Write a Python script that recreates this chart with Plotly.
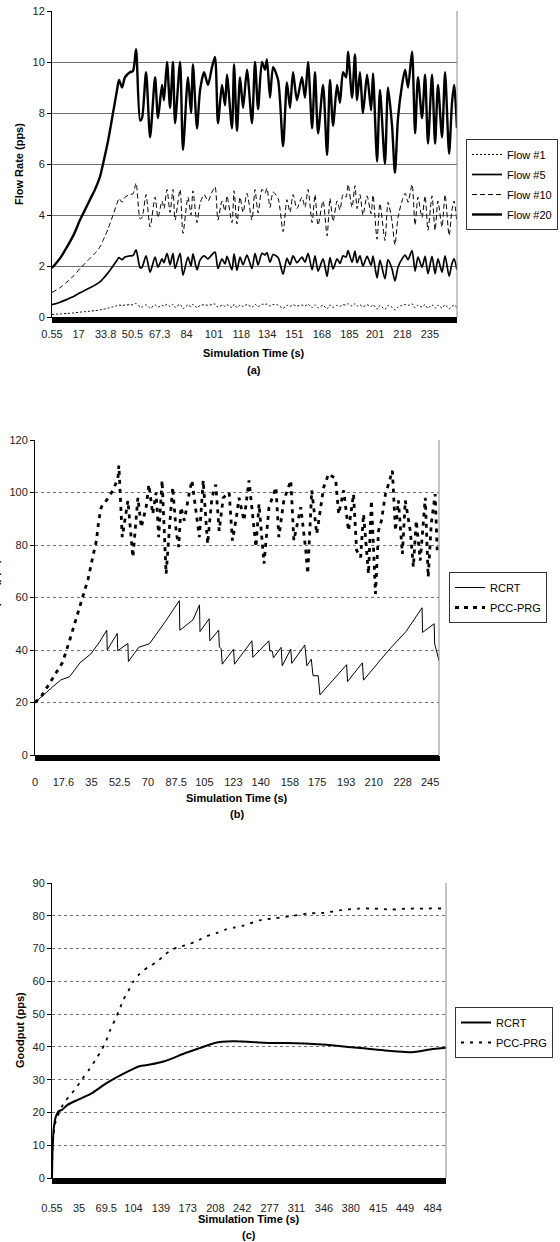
import plotly.graph_objects as go

W, H = 560, 1242
FONT = "Liberation Sans, Arial, sans-serif"

# ---------------- panel (a) data ----------------
time_a = [0.55, 5.51, 9.86, 14.2, 17.9, 21.0, 24.1, 27.2, 30.3, 32.2,
          35.3, 38.4, 40.9, 42.1, 44.0, 45.8, 48.9, 50.8, 52.7, 55.2,
          56.4, 58.9, 61.4, 64.5, 66.3, 68.8, 70.0, 71.9, 73.8, 75.6,
          76.9, 80.0, 81.8, 84.9, 86.8, 88.0, 90.5, 92.4, 94.9, 97.3,
          99.8, 101.7, 103.5, 106.0, 107.9, 109.1, 112.2, 113.5, 115.3, 117.2,
          119.1, 121.5, 124.6, 126.5, 128.4, 130.8, 132.7, 133.9, 135.8, 137.7,
          140.8, 143.9, 146.3, 148.2, 150.1, 152.5, 155.6, 157.5, 159.4, 161.9,
          163.7, 165.6, 168.7, 171.2, 173.0, 174.9, 177.4, 179.2, 181.1, 183.0,
          184.2, 186.7, 188.5, 189.8, 191.6, 193.5, 196.0, 198.5, 199.7, 202.2,
          204.0, 207.1, 209.0, 211.5, 213.3, 215.2, 217.7, 219.6, 221.4, 223.9,
          225.8, 227.6, 230.1, 232.0, 233.8, 236.3, 238.2, 240.0, 242.5, 244.4,
          246.9, 248.7, 250.0, 251.8]

flow20 = [1.92, 2.3, 2.75, 3.25, 3.8, 4.2, 4.6, 5.0, 5.5, 6.0,
          6.9, 8.0, 8.9, 9.3, 9.0, 9.4, 9.6, 9.65, 10.5, 7.7,
          7.8, 9.6, 7.05, 9.4, 7.8, 9.1, 8.5, 10.0, 8.2, 10.0,
          7.6, 10.0, 6.55, 9.4, 8.0, 9.9, 7.4, 8.9, 9.6, 9.1,
          9.8, 10.2, 7.6, 9.1, 8.3, 9.5, 7.4, 9.9, 7.3, 9.4,
          8.2, 9.7, 7.6, 10.0, 8.15, 10.0, 9.7, 10.1, 8.6, 9.8,
          9.3, 6.7, 9.2, 8.2, 9.6, 8.5, 9.4, 8.6, 10.0, 7.4,
          9.6, 7.2, 9.1, 6.35, 9.3, 7.5, 9.1, 8.4, 9.6, 9.4,
          10.4, 8.6, 10.3, 8.5, 9.6, 8.0, 9.5, 8.1, 9.55, 6.1,
          8.9, 6.0, 9.0, 7.5, 5.65, 7.8, 9.1, 9.7, 9.0, 10.4,
          7.2, 9.4, 7.8, 9.5, 6.8, 9.5, 6.8, 9.1, 7.05, 9.6,
          6.4, 8.4, 9.1, 7.4]

flow10 = [0.96, 1.15, 1.38, 1.63, 1.9, 2.1, 2.3, 2.5, 2.75, 3.0,
          3.45, 4.0, 4.45, 4.65, 4.5, 4.7, 4.8, 4.83, 5.25, 3.85,
          3.9, 4.8, 3.53, 4.7, 3.9, 4.55, 4.25, 5.0, 4.1, 5.0,
          3.8, 5.0, 3.28, 4.7, 4.0, 4.95, 3.7, 4.45, 4.8, 4.55,
          4.9, 5.1, 3.8, 4.55, 4.15, 4.75, 3.7, 4.95, 3.65, 4.7,
          4.1, 4.85, 3.8, 5.0, 4.08, 5.0, 4.85, 5.05, 4.3, 4.9,
          4.65, 3.35, 4.6, 4.1, 4.8, 4.25, 4.7, 4.3, 5.0, 3.7,
          4.8, 3.6, 4.55, 3.18, 4.65, 3.75, 4.55, 4.2, 4.8, 4.7,
          5.2, 4.3, 5.15, 4.25, 4.8, 4.0, 4.75, 4.05, 4.78, 3.05,
          4.45, 3.0, 4.5, 3.75, 2.83, 3.9, 4.55, 4.85, 4.5, 5.2,
          3.6, 4.7, 3.9, 4.75, 3.4, 4.75, 3.4, 4.55, 3.53, 4.8,
          3.2, 4.2, 4.55, 3.7]

flow5 = [0.48, 0.58, 0.69, 0.81, 0.95, 1.05, 1.15, 1.25, 1.38, 1.5,
         1.73, 2.0, 2.23, 2.33, 2.25, 2.35, 2.4, 2.41, 2.63, 1.93,
         1.95, 2.4, 1.76, 2.35, 1.95, 2.28, 2.13, 2.5, 2.05, 2.5,
         1.9, 2.5, 1.64, 2.35, 2.0, 2.48, 1.85, 2.23, 2.4, 2.28,
         2.45, 2.55, 1.9, 2.28, 2.08, 2.38, 1.85, 2.48, 1.83, 2.35,
         2.05, 2.43, 1.9, 2.5, 2.04, 2.5, 2.43, 2.53, 2.15, 2.45,
         2.33, 1.68, 2.3, 2.05, 2.4, 2.13, 2.35, 2.15, 2.5, 1.85,
         2.4, 1.8, 2.28, 1.59, 2.33, 1.88, 2.28, 2.1, 2.4, 2.35,
         2.6, 2.15, 2.58, 2.13, 2.4, 2.0, 2.38, 2.03, 2.39, 1.53,
         2.23, 1.5, 2.25, 1.88, 1.41, 1.95, 2.28, 2.43, 2.25, 2.6,
         1.8, 2.35, 1.95, 2.38, 1.7, 2.38, 1.7, 2.28, 1.76, 2.4,
         1.6, 2.1, 2.28, 1.85]

flow1 = [0.10, 0.12, 0.14, 0.16, 0.19, 0.21, 0.23, 0.25, 0.28, 0.30,
         0.35, 0.40, 0.45, 0.47, 0.45, 0.47, 0.48, 0.48, 0.53, 0.39,
         0.39, 0.48, 0.35, 0.47, 0.39, 0.46, 0.43, 0.50, 0.41, 0.50,
         0.38, 0.50, 0.33, 0.47, 0.40, 0.50, 0.37, 0.45, 0.48, 0.46,
         0.49, 0.51, 0.38, 0.46, 0.42, 0.48, 0.37, 0.50, 0.37, 0.47,
         0.41, 0.49, 0.38, 0.50, 0.41, 0.50, 0.49, 0.51, 0.43, 0.49,
         0.47, 0.34, 0.46, 0.41, 0.48, 0.43, 0.47, 0.43, 0.50, 0.37,
         0.48, 0.36, 0.46, 0.32, 0.47, 0.38, 0.46, 0.42, 0.48, 0.47,
         0.52, 0.43, 0.52, 0.43, 0.48, 0.40, 0.48, 0.41, 0.48, 0.31,
         0.45, 0.30, 0.45, 0.38, 0.28, 0.39, 0.46, 0.49, 0.45, 0.52,
         0.36, 0.47, 0.39, 0.48, 0.34, 0.48, 0.34, 0.46, 0.35, 0.48,
         0.32, 0.42, 0.46, 0.37]

xlabels_a = ["0.55", "17", "33.8", "50.5", "67.3", "84", "101", "118",
             "134", "151", "168", "185", "201", "218", "235"]
yticks_a = [0, 2, 4, 6, 8, 10, 12]

# ---------------- panel (b) data ----------------
time_b_rcrt = [0, 3, 7, 11, 16, 21.4, 28, 34.6, 40, 44.5,
               44.8, 51, 51.3, 57.6, 57.9, 64.3, 71, 81, 89.5, 89.8,
               95, 98, 102, 102.3, 108, 108.4, 113.9, 114.3, 115.4, 116.1,
               123.1, 123.7, 134.5, 135.1, 145.0, 145.6, 147.2, 147.8, 152.6, 153.3,
               158.6, 159.2, 167.3, 168.6, 171.3, 172.4, 175.6, 176.7, 193.2, 193.8,
               203, 203.7, 219.4, 230, 240, 240.3, 247.5, 247.8, 250.5]
rcrt_b = [20, 21.5, 23.8, 26, 28.6, 29.8, 35.2, 38.5, 43, 47.6,
          40, 46.3, 39.7, 42.5, 35.6, 41, 42.4, 51, 58.8, 47.5,
          50, 51.5, 57.2, 47, 51.9, 43.5, 47.6, 41.2, 40.5, 34.6,
          40.3, 34.6, 43.5, 37.2, 43.5, 39.7, 39.5, 37, 41, 34,
          40.3, 34.9, 41.9, 34, 36.5, 30.2, 30.2, 22.9, 34.4, 28,
          35.1, 28.5, 40, 47, 56.1, 46.7, 50, 42.4, 35.9]

time_b_pcc = [0, 4, 8, 12.5, 17, 21.4, 24.2, 27.8, 30.9, 32.9,
              36, 38.1, 39.5, 41.1, 44.2, 48.3, 51.4, 52, 54.1, 57.6,
              60.7, 63.8, 65.9, 68.9, 70.6, 73, 75.1, 76.7, 78.8, 81.3,
              83.7, 85.4, 87.5, 89.1, 90.5, 92.6, 95.7, 97.3, 99.8, 101.9,
              104.3, 107, 109.7, 112.1, 114.2, 116.7, 120.4, 122.4, 124.9, 126.5,
              129.6, 132.7, 137, 138.9, 142, 145.1, 149.4, 151.2, 154.3, 158.6,
              160.5, 164.8, 167.9, 169.1, 171.6, 174.7, 179, 182.1, 186.4, 188.3,
              191.4, 194.4, 197.5, 199.4, 201.9, 203.7, 206.8, 208.6, 211.1, 213,
              214.8, 217.3, 219.1, 221.6, 223.5, 225.3, 227.8, 229.6, 232.7, 234.6,
              236.4, 238.9, 242, 243.8, 245.7, 248.1, 249.4]
pcc_b = [20, 22.5, 26.3, 30.9, 35.2, 43.5, 49.2, 56.9, 62.6, 67,
         76, 81.7, 89.3, 94.4, 96.9, 100.8, 105.3, 110.3, 83, 96.9,
         75.3, 98, 86.7, 94.4, 103, 91.8, 100, 83, 104.6, 69,
         89.3, 102, 85.4, 79.2, 94.4, 89.3, 100, 104.6, 93, 83,
         104.6, 80.4, 98, 103, 85.4, 98, 100, 81.7, 90.6, 98,
         89.3, 104.6, 79.2, 95.6, 72.9, 94.4, 102, 83, 97, 104.6,
         81.7, 94.4, 78, 69, 100.8, 84.2, 102, 107.1, 105.2, 91.8,
         100.8, 85.4, 99.4, 78, 75.3, 91.8, 69, 97, 61.4, 85.4,
         89.3, 99.4, 103, 108.3, 85.4, 97, 76.6, 97, 85.4, 71.6,
         89.3, 74.1, 98, 67.8, 88, 99.4, 78]

xlabels_b = ["0", "17.6", "35", "52.5", "70", "87.5", "105", "123",
             "140", "158", "175", "193", "210", "228", "245"]
yticks_b = [0, 20, 40, 60, 80, 100, 120]

# ---------------- panel (c) data ----------------
time_c_rcrt = [0.55, 1.2, 2.8, 5.6, 8.8, 13.3, 20.2, 33.8, 52.1, 70.3,
               97.7, 111.4, 125.1, 143.3, 170.7, 189, 207.2, 230, 275.6, 298.4,
               344, 389.6, 435.3, 458, 480.9, 501]
rcrt_c = [0, 8, 15.2, 18.8, 20.3, 20.8, 22.3, 23.9, 26, 29,
          32.6, 34.1, 34.6, 35.6, 38.2, 39.7, 41.2, 41.7, 41.2, 41.2,
          40.7, 39.7, 38.7, 38.4, 39.2, 39.7]

time_c_pcc = [0.55, 1.5, 4, 8, 15.6, 22.4, 29.3, 38.4, 47.5, 57,
              63.4, 68.9, 74, 80.4, 85.9, 91, 97.4, 103.7, 112.3, 122.9,
              133.6, 144.2, 152.8, 165.6, 176.2, 188.9, 197.5, 210.3, 220.9, 231.5,
              242.2, 265.6, 282.2, 304, 325.6, 346, 367.8, 389.4, 410, 431.6,
              453.3, 473.7, 495.4, 500]
pcc_c = [0, 10, 16, 19, 22.9, 24.9, 26.9, 30, 33, 36.5,
         39, 41.6, 44.9, 48.2, 51.2, 54.3, 57, 59.9, 62.4, 64.4,
         65.9, 68.2, 69.7, 70.7, 71.5, 72.8, 73.8, 74.8, 75.8, 76.4,
         76.9, 78.7, 79.2, 79.9, 80.7, 80.9, 81.7, 82.2, 82.2, 81.9,
         82.2, 82.2, 82.2, 81.7]

xlabels_c = ["0.55", "35", "69.5", "104", "139", "173", "208", "242",
             "277", "311", "346", "380", "415", "449", "484"]
yticks_c = [0, 10, 20, 30, 40, 50, 60, 70, 80, 90]


# ---------------- helpers (layout in pixels) ----------------
def xd(left, right):
    return [left / W, right / W]


def yd(top, bottom):
    return [1 - bottom / H, 1 - top / H]


def px(x):
    return x / W


def py(y):
    return 1 - y / H


fig = go.Figure()

SPL = dict(shape="spline", smoothing=0.7)

# panel a traces
fig.add_trace(go.Scatter(x=time_a, y=flow1, name="Flow #1", mode="lines",
                         line=dict(color="black", width=1, dash="2px,2px", **SPL),
                         xaxis="x", yaxis="y", legend="legend", legendgroup="a1"))
fig.add_trace(go.Scatter(x=time_a, y=flow5, name="Flow #5", mode="lines",
                         line=dict(color="black", width=1.7, **SPL),
                         xaxis="x", yaxis="y", legend="legend", legendgroup="a2"))
fig.add_trace(go.Scatter(x=time_a, y=flow10, name="Flow #10", mode="lines",
                         line=dict(color="black", width=1, dash="5px,3px", **SPL),
                         xaxis="x", yaxis="y", legend="legend", legendgroup="a3"))
fig.add_trace(go.Scatter(x=time_a, y=flow20, name="Flow #20", mode="lines",
                         line=dict(color="black", width=2.4, **SPL),
                         xaxis="x", yaxis="y", legend="legend", legendgroup="a4"))

# panel b traces
fig.add_trace(go.Scatter(x=time_b_rcrt, y=rcrt_b, name="RCRT", mode="lines",
                         line=dict(color="black", width=1),
                         xaxis="x2", yaxis="y2", legend="legend2", legendgroup="b1"))
fig.add_trace(go.Scatter(x=time_b_pcc, y=pcc_b, name="PCC-PRG", mode="lines",
                         line=dict(color="black", width=2.8, dash="4px,5px"),
                         xaxis="x2", yaxis="y2", legend="legend2", legendgroup="b2"))

# panel c traces
fig.add_trace(go.Scatter(x=time_c_rcrt, y=rcrt_c, name="RCRT", mode="lines",
                         line=dict(color="black", width=2, **SPL),
                         xaxis="x3", yaxis="y3", legend="legend3", legendgroup="c1"))
fig.add_trace(go.Scatter(x=time_c_pcc, y=pcc_c, name="PCC-PRG", mode="lines",
                         line=dict(color="black", width=1.8, dash="3px,6px", **SPL),
                         xaxis="x3", yaxis="y3", legend="legend3", legendgroup="c2"))

tickfont = dict(family=FONT, size=11, color="#222")


def xaxis(domain, anchor, rng, labels, minor_dtick, standoff):
    return dict(domain=domain, anchor=anchor, range=rng,
                tickmode="array", tickvals=[float(s) for s in labels], ticktext=labels,
                showline=True, linecolor="black", linewidth=1,
                ticks="outside", ticklen=5, tickcolor="black", tickwidth=1,
                ticklabelstandoff=standoff,
                minor=dict(tickmode="linear", tick0=rng[0], dtick=minor_dtick,
                           ticks="outside", ticklen=5, tickcolor="black", tickwidth=1,
                           showgrid=False),
                showgrid=False, zeroline=False, tickfont=tickfont)


def yaxis(domain, anchor, rng, vals, griddash):
    return dict(domain=domain, anchor=anchor, range=rng,
                tickmode="array", tickvals=vals,
                showline=True, linecolor="black", linewidth=1,
                ticks="outside", ticklen=4, tickcolor="black",
                showgrid=True, gridcolor="#707070", gridwidth=1, griddash=griddash,
                zeroline=False, tickfont=tickfont)


legend_common = dict(bgcolor="white", bordercolor="#333", borderwidth=1,
                     font=dict(family=FONT, size=11, color="black"),
                     xanchor="left", yanchor="top", tracegroupgap=1,
                     itemclick=False, itemdoubleclick=False)

# right-hand plot borders (decoration)
shapes = []
for xr, yr in (("x", "y"), ("x2", "y2"), ("x3", "y3")):
    shapes.append(dict(type="line", xref=f"{xr} domain", yref=f"{yr} domain",
                       x0=1, x1=1, y0=0, y1=1, line=dict(color="#8a8a8a", width=1)))

title_font = dict(family=FONT, size=11, color="black", weight="bold")


def ann(text, x, y, angle=0):
    return dict(text=text, x=px(x), y=py(y), xref="paper", yref="paper",
                xanchor="center", yanchor="middle", showarrow=False,
                textangle=angle, font=title_font)


annotations = [
    ann("Flow Rate (pps)", 19, 164, -90),
    ann("Simulation Time (s)", 254, 353),
    ann("(a)", 254, 370),
    ann("Goodput (pps)", -5, 597, -90),
    ann("Simulation Time (s)", 237, 798),
    ann("(b)", 237, 814),
    ann("Goodput (pps)", 20, 1030, -90),
    ann("Simulation Time (s)", 249, 1219),
    ann("(c)", 249, 1235),
]

fig.update_layout(
    width=W, height=H,
    margin=dict(l=0, r=0, t=0, b=0, autoexpand=False),
    paper_bgcolor="white", plot_bgcolor="white",
    showlegend=True,
    xaxis=xaxis(xd(52, 457), "y", [0.55, 251.8], xlabels_a, 0.5, 2),
    yaxis=yaxis(yd(11, 317), "x", [0, 12], yticks_a, "solid"),
    xaxis2=xaxis(xd(35, 439), "y2", [0, 250.5], xlabels_b, 0.5, 12),
    yaxis2=yaxis(yd(440, 755), "x2", [0, 120], yticks_b, "dot"),
    xaxis3=xaxis(xd(52, 446), "y3", [0.55, 501], xlabels_c, 1, 15),
    yaxis3=yaxis(yd(883, 1178), "x3", [0, 90], yticks_c, "dot"),
    legend=dict(x=px(466), y=py(139), **legend_common),
    legend2=dict(x=px(449), y=py(572), **legend_common),
    legend3=dict(x=px(455), y=py(1007), **legend_common),
    shapes=shapes,
    annotations=annotations,
)

fig.write_html("out.html")
